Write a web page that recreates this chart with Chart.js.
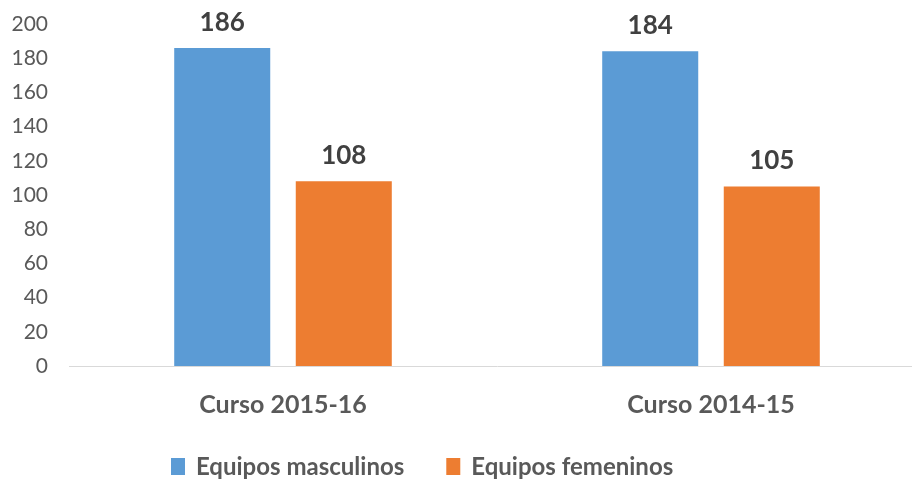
<!DOCTYPE html>
<html>
<head>
<meta charset="utf-8">
<script src="https://cdn.jsdelivr.net/npm/chart.js@4/dist/chart.umd.min.js"></script>
<style>
  html, body { margin: 0; padding: 0; background: #ffffff; overflow: hidden; }
  #wrap { position: relative; width: 926px; height: 483px; }
</style>
</head>
<body>
<div id="wrap"><canvas id="c"></canvas></div>
<script>
const categories = ["Curso 2015-16", "Curso 2014-15"];
const seriesNames = ["Equipos masculinos", "Equipos femeninos"];
const masculinos = [186, 184];
const femeninos = [108, 105];
const yTicks = [0, 20, 40, 60, 80, 100, 120, 140, 160, 180, 200];

const FONT = "Lato, 'Open Sans', sans-serif";
const colors = ["#5B9BD5", "#ED7D31"];

const valueLabels = {
  id: "valueLabels",
  afterDatasetsDraw(chart) {
    const ctx = chart.ctx;
    ctx.save();
    ctx.font = "bold 26px " + FONT;
    ctx.fillStyle = "#404040";
    ctx.textAlign = "center";
    ctx.textBaseline = "alphabetic";
    chart.data.datasets.forEach((ds, i) => {
      const meta = chart.getDatasetMeta(i);
      meta.data.forEach((bar, j) => {
        ctx.fillText(String(ds.data[j]), bar.x, bar.y - 17);
      });
    });
    ctx.restore();
  }
};

const customLegend = {
  id: "customLegend",
  afterDraw(chart) {
    const ctx = chart.ctx;
    ctx.save();
    ctx.font = "bold 24px " + FONT;
    ctx.textBaseline = "middle";
    ctx.textAlign = "left";
    let x = 171;
    const cy = 466.5;
    chart.data.datasets.forEach((ds, i) => {
      ctx.fillStyle = ds.backgroundColor;
      ctx.fillRect(x, cy - 8.5, 14, 17);
      ctx.fillStyle = "#595959";
      ctx.fillText(ds.label, x + 25, cy + 1);
      x += 25 + ctx.measureText(ds.label).width + 42;
    });
    ctx.restore();
  }
};

new Chart(document.getElementById("c"), {
  type: "bar",
  data: {
    labels: categories,
    datasets: [
      { label: seriesNames[0], data: masculinos, backgroundColor: colors[0], categoryPercentage: 0.568, barPercentage: 0.79 },
      { label: seriesNames[1], data: femeninos, backgroundColor: colors[1], categoryPercentage: 0.568, barPercentage: 0.79 }
    ]
  },
  options: {
    responsive: true,
    maintainAspectRatio: false,
    animation: false,
    layout: { padding: { top: 24, right: 1, bottom: 0, left: 0 } },
    plugins: {
      legend: { display: false },
      tooltip: { enabled: false }
    },
    scales: {
      x: {
        afterFit(axis) { axis.height = 117; axis.paddingLeft = 0; axis.paddingRight = 0; },
        grid: { display: false, drawTicks: false },
        border: { display: true, color: "#d9d9d9", width: 1 },
        ticks: { color: "#595959", font: { family: FONT, size: 25, weight: "bold" }, padding: 24 }
      },
      y: {
        min: 0,
        max: 200,
        afterFit(axis) { axis.width = 69; axis.paddingTop = 0; axis.paddingBottom = 0; },
        afterBuildTicks(axis) { axis.ticks = yTicks.map(v => ({ value: v })); },
        grid: { display: false, drawTicks: false },
        border: { display: false },
        ticks: { color: "#595959", font: { family: FONT, size: 21 }, padding: 21 }
      }
    }
  },
  plugins: [valueLabels, customLegend]
});
</script>
</body>
</html>
